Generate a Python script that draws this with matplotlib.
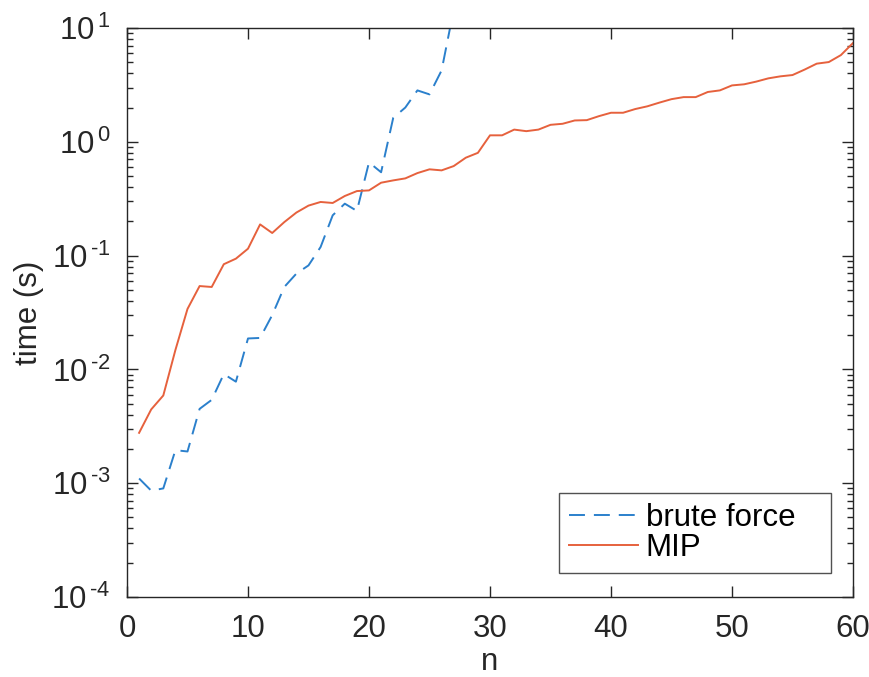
import matplotlib
matplotlib.use('Agg')
import matplotlib.pyplot as plt
import numpy as np
from matplotlib.ticker import LogLocator, NullFormatter, FixedLocator

plt.rcParams['font.family'] = ['Liberation Sans', 'DejaVu Sans']
plt.rcParams['mathtext.fontset'] = 'custom'
plt.rcParams['mathtext.rm'] = 'Liberation Sans'
plt.rcParams['mathtext.it'] = 'Liberation Sans'

# brute force timings (stops past the top of the plot)
n_bf = list(range(1, 28))
t_bf = [0.0011, 0.00086, 0.0009, 0.00195, 0.0019, 0.0045, 0.0054, 0.0091, 0.0078, 0.0187,
        0.0189, 0.030, 0.053, 0.0695, 0.082, 0.119, 0.226, 0.286, 0.247, 0.66,
        0.54, 1.62, 2.0, 2.83, 2.61, 4.24, 14.5]

# MIP timings
n_mip = list(range(1, 61))
t_mip = [0.00277, 0.00445, 0.0059, 0.0148, 0.034, 0.054, 0.053, 0.084, 0.094, 0.115,
         0.188, 0.158, 0.197, 0.239, 0.275, 0.296, 0.29, 0.334, 0.369, 0.374,
         0.437, 0.458, 0.477, 0.531, 0.573, 0.561, 0.612, 0.725, 0.80, 1.14,
         1.14, 1.28, 1.24, 1.28, 1.41, 1.44, 1.54, 1.55, 1.68, 1.80,
         1.80, 1.94, 2.05, 2.21, 2.37, 2.47, 2.47, 2.74, 2.83, 3.13,
         3.2, 3.38, 3.61, 3.76, 3.86, 4.31, 4.86, 5.02, 5.78, 7.38]

ytick_vals = [1e-4, 1e-3, 1e-2, 1e-1, 1, 10]
ytick_exp = ['-4', '-3', '-2', '-1', '0', '1']

blue = (0.17, 0.5, 0.8)
red = (0.9, 0.38, 0.24)
axcol = '#262626'
fs = 22.5

fig = plt.figure(figsize=(8.7, 6.77), dpi=100)
ax = fig.add_axes([127/870, 1 - 597/677, (853 - 127)/870, (597 - 28)/677])

# trailing spaces give the wide right margin of the matlab legend
ax.plot(n_bf, t_bf, color=blue, lw=1.4, dashes=(8.2, 4.6), label='brute force   ')
ax.plot(n_mip, t_mip, color=red, lw=1.4, label='MIP')

ax.set_yscale('log')
ax.set_xlim(0, 60)
ax.set_ylim(1e-4, 10)
ax.xaxis.set_major_locator(FixedLocator([0, 10, 20, 30, 40, 50, 60]))
ax.yaxis.set_major_locator(FixedLocator(ytick_vals))
ax.set_yticklabels([r'$10^{\,\text{%s}}$' % e for e in ytick_exp])
ax.yaxis.set_minor_locator(LogLocator(base=10, subs=np.arange(2, 10), numticks=20))
ax.yaxis.set_minor_formatter(NullFormatter())

ax.tick_params(which='both', direction='in', top=True, right=True, colors=axcol,
               labelsize=fs, width=1)
ax.tick_params(which='major', length=8)
ax.tick_params(which='minor', length=4.5)
ax.tick_params(axis='x', pad=12)
ax.tick_params(axis='y', pad=12)
for s in ax.spines.values():
    s.set_color(axcol)
    s.set_linewidth(1)

ax.set_xlabel('n', fontsize=fs, color=axcol, labelpad=2.5)
ax.set_ylabel('time (s)', fontsize=fs, color=axcol, labelpad=5.5)

leg = ax.legend(loc='lower right', fontsize=fs, handlelength=2.2, handletextpad=0.25,
                borderpad=0.32, labelspacing=0.0, fancybox=False,
                bbox_to_anchor=(0.97, 0.042), borderaxespad=0)
leg.get_frame().set_edgecolor(axcol)
leg.get_frame().set_linewidth(1)

fig.savefig('out.png', dpi=100)
